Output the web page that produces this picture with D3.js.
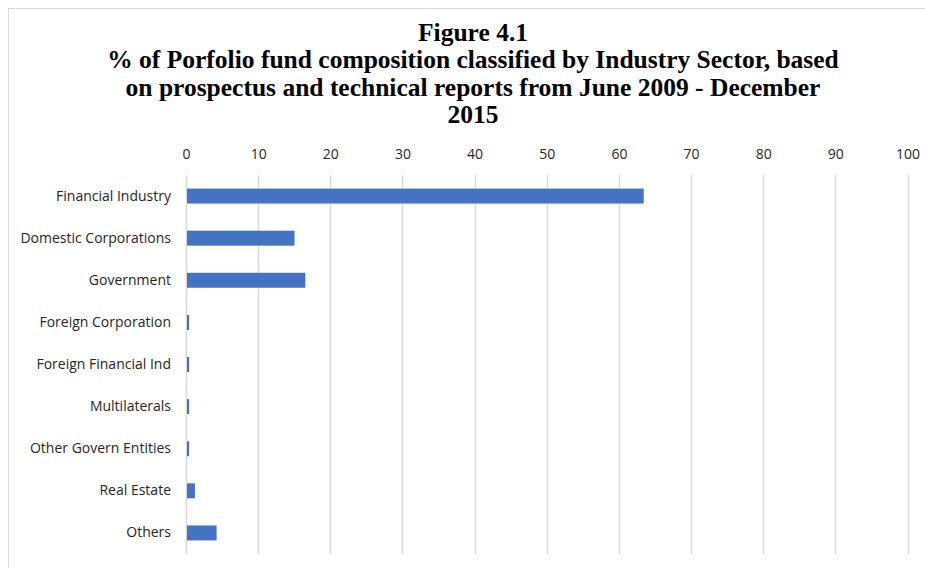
<!DOCTYPE html>
<html>
<head>
<meta charset="utf-8">
<script src="https://cdn.jsdelivr.net/npm/d3@7"></script>
<style>
  html, body { margin: 0; padding: 0; background: #fff; }
  svg { display: block; }
</style>
</head>
<body>
<svg id="chart" width="925" height="568"></svg>
<script>
// Sector categories, top to bottom
const categories = [
  "Financial Industry",
  "Domestic Corporations",
  "Government",
  "Foreign Corporation",
  "Foreign Financial Ind",
  "Multilaterals",
  "Other Govern Entities",
  "Real Estate",
  "Others"
];
// Share of portfolio (%)
const values = [63.3, 14.9, 16.4, 0.3, 0.3, 0.3, 0.3, 1.1, 4.1];
// Axis ticks
const tickValues = [0, 10, 20, 30, 40, 50, 60, 70, 80, 90, 100];
// Title lines
const titleLines = [
  "Figure 4.1",
  "% of Porfolio fund composition classified by Industry Sector, based",
  "on prospectus and technical reports from June 2009 - December",
  "2015"
];

const svg = d3.select("#chart");
const W = 925, H = 568;
const labelFont = "'Open Sans', Lato, sans-serif";

// Chart area frame
svg.append("rect")
  .attr("x", 8.5).attr("y", 8.5)
  .attr("width", W + 10).attr("height", H + 10)
  .attr("fill", "#fff")
  .attr("stroke", "#d9d9d9").attr("stroke-width", 1);

// Title
const title = svg.append("text")
  .attr("text-anchor", "middle")
  .attr("font-family", "'Liberation Serif', 'Times New Roman', serif")
  .attr("font-weight", "bold")
  .attr("font-size", 25.5)
  .attr("fill", "#000");
titleLines.forEach((t, i) => {
  title.append("tspan")
    .attr("x", 473)
    .attr("y", 41 + i * 27.3)
    .text(t);
});

const plot = { left: 186, right: 907.5, top: 175, bottom: 554 };

const x = d3.scaleLinear()
  .domain([0, 100])
  .range([plot.left, plot.right]);

const y = d3.scaleBand()
  .domain(categories)
  .range([plot.top, plot.bottom])
  .paddingInner(0.645)
  .paddingOuter(0.3225);

// Vertical gridlines
svg.append("g")
  .selectAll("line")
  .data(tickValues)
  .join("line")
  .attr("x1", d => Math.round(x(d)) + 0.5)
  .attr("x2", d => Math.round(x(d)) + 0.5)
  .attr("y1", plot.top)
  .attr("y2", plot.bottom)
  .attr("stroke", "#d9d9d9")
  .attr("stroke-width", 1.5);

// Top axis labels
const xAxis = d3.axisTop(x)
  .tickValues(tickValues)
  .tickSize(0)
  .tickPadding(0);
const gx = svg.append("g")
  .attr("transform", `translate(0, ${159})`)
  .call(xAxis);
gx.select(".domain").remove();
gx.selectAll("text")
  .attr("font-family", labelFont)
  .attr("font-size", 14)
  .attr("fill", "#262626");

// Bars
svg.append("g")
  .selectAll("rect")
  .data(categories.map((c, i) => ({ c, v: values[i] })))
  .join("rect")
  .attr("x", x(0) + 1)
  .attr("y", d => y(d.c))
  .attr("width", d => x(d.v) - x(0))
  .attr("height", y.bandwidth())
  .attr("fill", "#4472c4");

// Category labels
const yAxis = d3.axisLeft(y).tickSize(0).tickPadding(15);
const gy = svg.append("g")
  .attr("transform", `translate(${plot.left}, 0)`)
  .call(yAxis);
gy.select(".domain").remove();
gy.selectAll("text")
  .attr("font-family", labelFont)
  .attr("font-size", 14)
  .attr("fill", "#262626");
</script>
</body>
</html>
